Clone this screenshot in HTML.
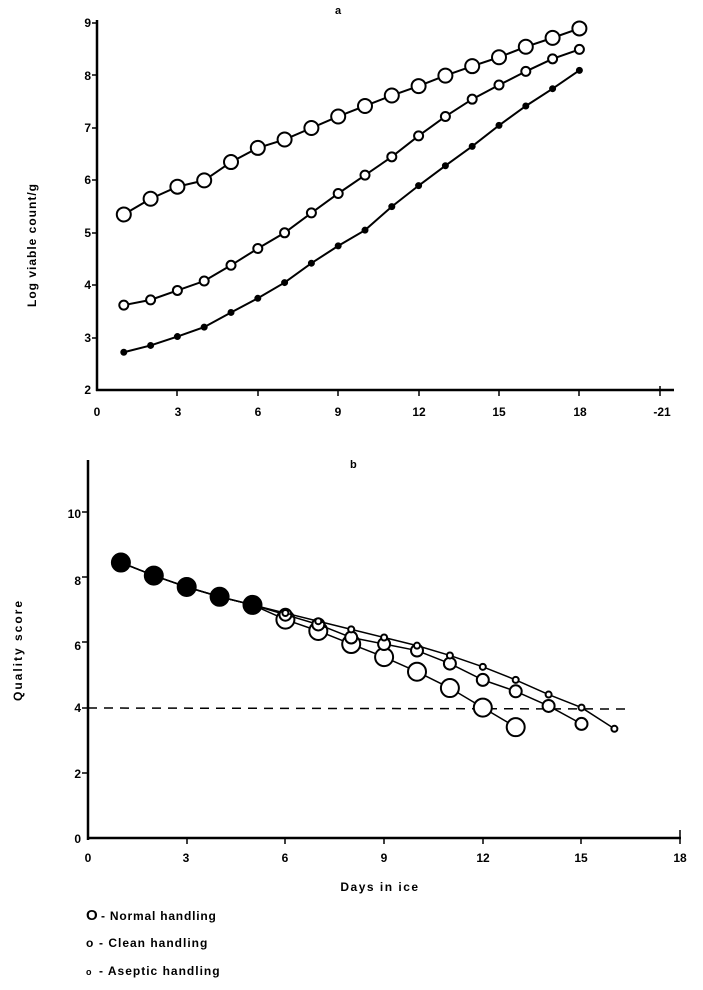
<!DOCTYPE html>
<html><head><meta charset="utf-8"><style>
html,body{margin:0;padding:0;background:#fff;}
svg{display:block;}
text{font-family:"Liberation Sans",sans-serif;font-weight:bold;fill:#000;}
</style></head><body>
<svg id="s" width="703" height="990" viewBox="0 0 703 990" xmlns="http://www.w3.org/2000/svg">
<!-- Chart a -->
<text x="335" y="14" font-size="11">a</text>
<line x1="97" y1="20" x2="97" y2="391" stroke="#000" stroke-width="2.5"/>
<line x1="96" y1="390" x2="674" y2="390" stroke="#000" stroke-width="2.5"/>
<g stroke="#000" stroke-width="1.5">
<line x1="92" y1="23" x2="97" y2="23"/><line x1="92" y1="75" x2="97" y2="75"/><line x1="92" y1="128" x2="97" y2="128"/>
<line x1="92" y1="180" x2="97" y2="180"/><line x1="92" y1="233" x2="97" y2="233"/><line x1="92" y1="285" x2="97" y2="285"/>
<line x1="92" y1="338" x2="97" y2="338"/>
<line x1="177" y1="390" x2="177" y2="396"/><line x1="258" y1="390" x2="258" y2="396"/><line x1="338" y1="390" x2="338" y2="396"/>
<line x1="419" y1="390" x2="419" y2="396"/><line x1="499" y1="390" x2="499" y2="396"/><line x1="579" y1="390" x2="579" y2="396"/>
<line x1="660" y1="386" x2="660" y2="396"/>
</g>
<g font-size="12" text-anchor="end">
<text x="91" y="27">9</text><text x="91" y="80">8</text><text x="91" y="132">7</text>
<text x="91" y="184">6</text><text x="91" y="237">5</text><text x="91" y="289">4</text>
<text x="91" y="342">3</text><text x="91" y="394">2</text>
</g>
<g font-size="12" text-anchor="middle">
<text x="97" y="416">0</text><text x="178" y="416">3</text><text x="258" y="416">6</text>
<text x="338" y="416">9</text><text x="419" y="416">12</text><text x="499" y="416">15</text>
<text x="580" y="416">18</text><text x="662" y="416">-21</text>
</g>
<text transform="translate(36,245) rotate(-90)" font-size="12" text-anchor="middle" letter-spacing="1">Log viable count/g</text>
<g id="a"></g>
<!-- Chart b -->
<text x="350" y="468" font-size="11">b</text>
<line x1="88" y1="460" x2="88" y2="840" stroke="#000" stroke-width="2.5"/>
<line x1="87" y1="838" x2="681" y2="838" stroke="#000" stroke-width="2.5"/>
<g stroke="#000" stroke-width="1.5">
<line x1="82" y1="512" x2="88" y2="512"/><line x1="82" y1="577" x2="88" y2="577"/><line x1="82" y1="642" x2="88" y2="642"/>
<line x1="82" y1="708" x2="88" y2="708"/><line x1="82" y1="773" x2="88" y2="773"/>
<line x1="187" y1="838" x2="187" y2="844"/><line x1="285" y1="838" x2="285" y2="844"/><line x1="384" y1="838" x2="384" y2="844"/>
<line x1="483" y1="838" x2="483" y2="844"/><line x1="581" y1="838" x2="581" y2="844"/><line x1="680" y1="830" x2="680" y2="844"/>
</g>
<g font-size="12" text-anchor="end">
<text x="81" y="518">10</text><text x="81" y="585">8</text><text x="81" y="650">6</text>
<text x="81" y="712">4</text><text x="81" y="778">2</text><text x="81" y="843">0</text>
</g>
<g font-size="12" text-anchor="middle">
<text x="88" y="862">0</text><text x="186" y="862">3</text><text x="285" y="862">6</text>
<text x="384" y="862">9</text><text x="483" y="862">12</text><text x="581" y="862">15</text>
<text x="680" y="862">18</text>
</g>
<line x1="88" y1="708" x2="630" y2="709" stroke="#000" stroke-width="1.5" stroke-dasharray="9,7"/>
<text transform="translate(22,650) rotate(-90)" font-size="12" text-anchor="middle" font-weight="normal" letter-spacing="2">Quality score</text>
<text x="380" y="891" font-size="12" text-anchor="middle" letter-spacing="1.5">Days in ice</text>
<g id="b"></g>
<g font-size="12" font-weight="normal">
<text x="86" y="920" font-size="15">O</text><text x="101" y="920" letter-spacing="0.8">- Normal handling</text>
<text x="86" y="947" font-weight="bold">o</text><text x="99" y="947" letter-spacing="1">-  Clean handling</text>
<text x="86" y="975" font-size="9" font-weight="bold">o</text><text x="99" y="975" letter-spacing="1">-   Aseptic handling</text>
</g>
</svg>
<script>
var NS="http://www.w3.org/2000/svg";
function add(g,tag,at){var e=document.createElementNS(NS,tag);for(var k in at)e.setAttribute(k,at[k]);g.appendChild(e);}
function series(g,xf,yf,vals,r,fill,sw,fillN){
 var pts=vals.map(function(v,i){return xf(i+1)+","+yf(v);}).join(" ");
 add(g,"polyline",{points:pts,fill:"none",stroke:"#000","stroke-width":sw});
 vals.forEach(function(v,i){add(g,"circle",{cx:xf(i+1),cy:yf(v),r:r,fill:(fillN&&i<fillN)?"#000":fill,stroke:"#000","stroke-width":2});});
}
var ga=document.getElementById("a");
var xa=function(d){return 97+26.8*d;},ya=function(v){return 390-52.4*(v-2);};
series(ga,xa,ya,[5.35,5.65,5.88,6.0,6.35,6.62,6.78,7.0,7.22,7.42,7.62,7.8,8.0,8.18,8.35,8.55,8.72,8.9],7,"#fff",2);
series(ga,xa,ya,[3.62,3.72,3.9,4.08,4.38,4.7,5.0,5.38,5.75,6.1,6.45,6.85,7.22,7.55,7.82,8.08,8.32,8.5],4.5,"#fff",2);
series(ga,xa,ya,[2.72,2.85,3.02,3.2,3.48,3.75,4.05,4.42,4.75,5.05,5.5,5.9,6.28,6.65,7.05,7.42,7.75,8.1],2.5,"#000",2);
var gb=document.getElementById("b");
var xb=function(d){return 88+32.9*d;},yb=function(v){return 838-32.6*v;};
series(gb,xb,yb,[8.45,8.05,7.7,7.4,7.15,6.7,6.35,5.95,5.55,5.1,4.6,4.0,3.4],9,"#fff",1.5,5);
series(gb,xb,yb,[8.45,8.05,7.7,7.4,7.15,6.85,6.55,6.15,5.95,5.75,5.35,4.85,4.5,4.05,3.5],6,"#fff",1.5,5);
series(gb,xb,yb,[8.45,8.05,7.7,7.4,7.15,6.9,6.65,6.4,6.15,5.9,5.6,5.25,4.85,4.4,4.0,3.35],3,"#fff",1.5,5);
</script>
</body></html>
